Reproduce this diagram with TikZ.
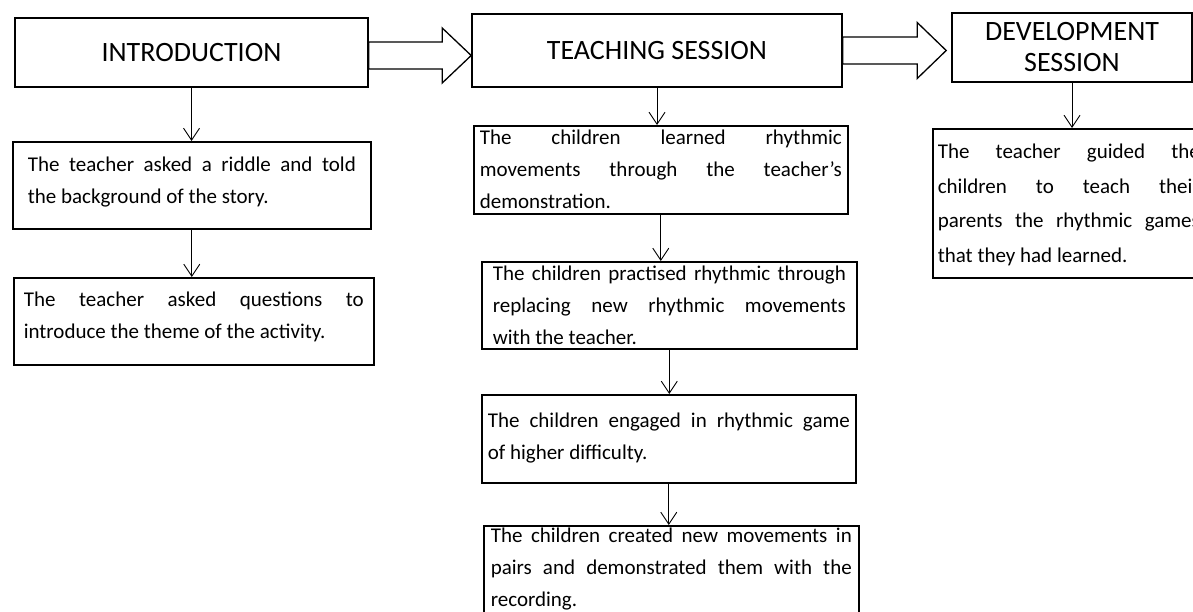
\documentclass[tikz,border=0pt]{standalone}
\usepackage{fontspec}
\setmainfont{Carlito}
\usetikzlibrary{arrows.meta,calc}

\begin{document}
\begin{tikzpicture}[x=1pt,y=-1pt,
    session/.style={draw,line width=1.6pt,inner sep=0pt,align=center,
      font=\fontsize{28}{31}\selectfont},
    stepbox/.style={draw,line width=1.6pt,anchor=north west,inner ysep=0pt,
      align=justify,font=\fontsize{21}{32}\selectfont},
    flow/.style={line width=0.9pt,-{Straight Barb[length=12pt,width=16pt]}},
    bigarrow/.style={line width=1.3pt,line join=miter}]
    \useasboundingbox (0,0) rectangle (1193,612);
    \clip (0,0) rectangle (1193,612);

    % session headings
    \node[session,minimum width=353pt,minimum height=69pt] (intro) at (191.5,52.5) {INTRODUCTION};
    \node[session,minimum width=370pt,minimum height=73pt] (teach) at (657,50.5) {TEACHING SESSION};
    \node[session,minimum width=240pt,minimum height=69pt] (devel) at (1072,47.5) {DEVELOPMENT\\SESSION};

    % introduction steps
    \node[stepbox,inner xsep=15pt,text width=328pt,text height=30pt,text depth=57pt] (riddle) at (12,141)
      {The teacher asked a riddle and told\linebreak the background of the story.};
    \node[stepbox,inner xsep=10pt,text width=340pt,text height=29pt,text depth=58pt] (theme) at (13,277)
      {The teacher asked questions to\linebreak introduce the theme of the activity.};

    % teaching steps
    \node[stepbox,inner xsep=6pt,text width=362pt,text height=19pt,text depth=69pt] (learn) at (473,125)
      {The children learned rhythmic\linebreak movements through the teacher’s\linebreak demonstration.};
    \node[stepbox,inner xsep=11pt,text width=353pt,text height=19pt,text depth=68pt] (practise) at (481,261)
      {The children practised rhythmic through\linebreak replacing new rhythmic movements\linebreak with the teacher.};
    \node[stepbox,inner xsep=6pt,text width=362pt,text height=33pt,text depth=55pt] (game) at (481,394)
      {The children engaged in rhythmic game\linebreak of higher difficulty.};
    \node[stepbox,inner xsep=7pt,text width=361pt,text height=17pt,text depth=98pt] (create) at (483,525)
      {The children created new movements in\linebreak pairs and demonstrated them with the\linebreak recording.};

    % development step
    \node[stepbox,inner xsep=5pt,text width=262pt,text height=30pt,text depth=119pt,
      font=\fontsize{21}{34.5}\selectfont] (parents) at (932,128)
      {The teacher guided the\linebreak children to teach their\linebreak parents the rhythmic games\linebreak that they had learned.};

    % downward arrows
    \draw[flow] (intro.south) -- (intro.south |- riddle.north);
    \draw[flow] (riddle.south) -- (riddle.south |- theme.north);
    \draw[flow] (teach.south) -- (teach.south |- learn.north);
    \draw[flow] (learn.south) -- (learn.south |- practise.north);
    \draw[flow] (practise.south) -- (practise.south |- game.north);
    \draw[flow] (game.south) -- (game.south |- create.north);
    \draw[flow] (devel.south) -- (devel.south |- parents.north);

    % block arrows between sessions
    \draw[bigarrow] let \p1=(intro.east), \p2=(teach.west) in
      (\x1,\y1+10.5pt) -- (\x2-29pt,\y1+10.5pt) -- (\x2-29pt,\y1+24.5pt) -- (\x2,\y1-3pt)
      -- (\x2-29pt,\y1-30.5pt) -- (\x2-29pt,\y1-16.5pt) -- (\x1,\y1-16.5pt) -- cycle;
    \draw[bigarrow] let \p1=(teach.east), \p2=(devel.west) in
      (\x1,\y1+13.5pt) -- (\x2-34pt,\y1+13.5pt) -- (\x2-34pt,\y1+28pt) -- (\x2-5pt,\y1)
      -- (\x2-34pt,\y1-28pt) -- (\x2-34pt,\y1-13.5pt) -- (\x1,\y1-13.5pt) -- cycle;
\end{tikzpicture}
\end{document}
